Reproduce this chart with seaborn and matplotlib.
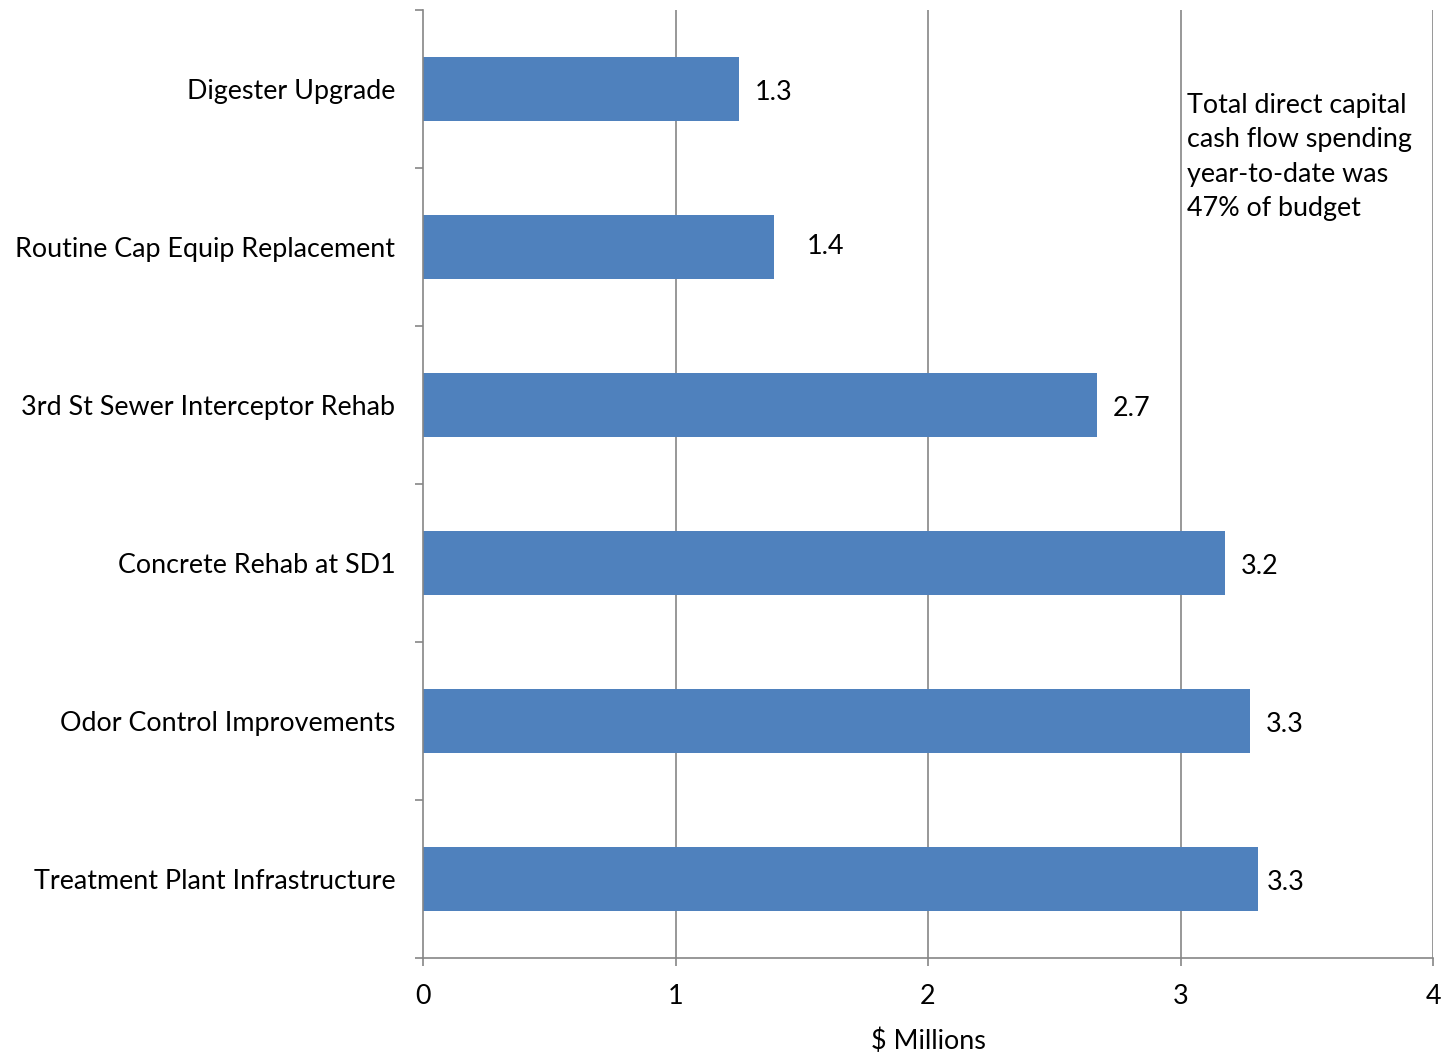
import matplotlib
matplotlib.use("Agg")
import matplotlib.pyplot as plt
from matplotlib.ticker import FixedLocator
import seaborn as sns
import pandas as pd

# Capital projects, year-to-date spending ($ millions)
projects = [
    "Digester Upgrade",
    "Routine Cap Equip Replacement",
    "3rd St Sewer Interceptor Rehab",
    "Concrete Rehab at SD1",
    "Odor Control Improvements",
    "Treatment Plant Infrastructure",
]
spending = [1.251, 1.39, 2.669, 3.176, 3.275, 3.307]
x_ticks = [0, 1, 2, 3, 4]
note_text = "Total direct capital\ncash flow spending\nyear-to-date was\n47% of budget"

# label nudges (points) for individual value labels
label_nudge = {1: (12, 3), 5: (-5, 0)}

FS = 19.4

sns.set_theme(style="white")
plt.rcParams["font.family"] = ["Lato", "DejaVu Sans"]

df = pd.DataFrame({"project": projects, "spending": spending})

fig = plt.figure(figsize=(14.41, 10.52), dpi=100)
ax = fig.add_axes([423 / 1441, (1052 - 958) / 1052, 1010 / 1441, 948 / 1052])

bar_color = "#4F81BD"
sns.barplot(data=df, x="spending", y="project", orient="h", color=bar_color,
            saturation=1, width=0.4, ax=ax, edgecolor="none")

grid_c = "#868686"
ax.set_xlim(0, 4)
ax.set_ylim(len(projects) - 0.5, -0.5)
ax.set_xticks(x_ticks)
ax.set_xticklabels([str(t) for t in x_ticks], fontsize=FS, color="black")
for t in x_ticks[1:]:
    ax.axvline(t, color=grid_c, lw=1.2, zorder=0)

# category boundary ticks on the value axis
ax.yaxis.set_minor_locator(FixedLocator([i - 0.5 for i in range(len(projects) + 1)]))
ax.tick_params(axis="y", which="major", length=0, pad=20, labelsize=FS, labelcolor="black")
ax.tick_params(axis="y", which="minor", length=6, width=1.2, color=grid_c, left=True)
ax.tick_params(axis="x", which="major", length=6, width=1.2, color=grid_c, bottom=True,
               pad=13)

for side in ["top", "right"]:
    ax.spines[side].set_visible(False)
for side in ["left", "bottom"]:
    ax.spines[side].set_color(grid_c)
    ax.spines[side].set_linewidth(1.2)

ax.set_ylabel("")
ax.set_xlabel("$ Millions", fontsize=FS, color="black", labelpad=14)

for i, v in enumerate(spending):
    dx, dy = label_nudge.get(i, (0, 0))
    ax.annotate(f"{v:.1f}", xy=(v, i), xytext=(11.5 + dx, dy - 2.5), textcoords="offset points",
                ha="left", va="center", fontsize=FS, color="black")

ax.text(3.027, 0.025, note_text, ha="left", va="top", fontsize=FS,
        color="black", linespacing=1.47)

fig.savefig("out.png", dpi=100)
